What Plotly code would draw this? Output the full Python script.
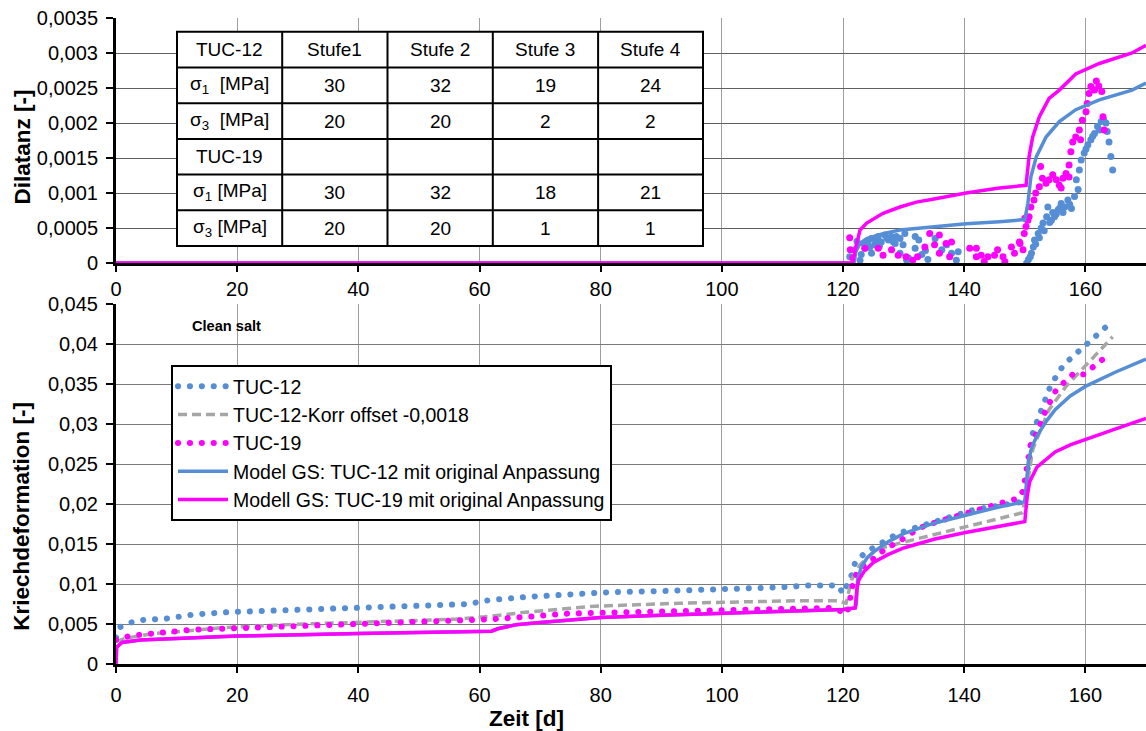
import plotly.graph_objects as go

# ---------------- data ----------------
# Bottom chart: creep deformation
t12_meas = [0, 0.6, 2.5, 4.5, 8.5, 13, 19, 27, 35, 42.5, 50, 58.5, 60, 62, 68, 76, 82, 89, 100, 110, 114,
            119.2, 120, 121.4, 122, 123.8, 125.6, 127.4, 129, 131, 134.5, 137.8, 141.7, 146.8, 149, 149.9,
            150.7, 151.3, 152.1, 153.4, 154.3, 156.4, 158.1, 159.4, 160.9, 162.4, 163.8]
v12_meas = [0.0033, 0.0046, 0.0052, 0.0055, 0.0057, 0.0062, 0.0065, 0.0067, 0.0069, 0.0071, 0.0073, 0.0075,
            0.0078, 0.0080, 0.0084, 0.0088, 0.0090, 0.0091, 0.0093, 0.0096, 0.0098, 0.0098, 0.0088, 0.0111,
            0.0127, 0.0140, 0.0148, 0.0156, 0.0163, 0.0168, 0.0177, 0.0184, 0.0193, 0.0199, 0.0202, 0.0213,
            0.0261, 0.0288, 0.0305, 0.0334, 0.0349, 0.0374, 0.0385, 0.0395, 0.0405, 0.0414, 0.0424]

t12_korr = [0, 1.5, 3.7, 6, 8.4, 17, 27, 38.6, 49, 56, 60.8, 68, 78.4, 93, 112, 119, 120.5, 121.4, 122.8,
            125.5, 129.3, 134.8, 140.3, 145.8, 149.6, 150.2, 151.3, 152.4, 154, 156.8, 160.1, 162.3, 164.5]
v12_korr = [0.0028, 0.0032, 0.0035, 0.0038, 0.0039, 0.0045, 0.0049, 0.0052, 0.0055, 0.0056, 0.0059, 0.0065,
            0.0072, 0.0076, 0.0079, 0.0079, 0.0076, 0.0105, 0.0124, 0.0143, 0.0151, 0.0161, 0.0172, 0.0182,
            0.0189, 0.0213, 0.0268, 0.0289, 0.0318, 0.0347, 0.0374, 0.0391, 0.0409]

t19_meas = [0, 2.2, 4.5, 6, 10.6, 12.8, 20.9, 29, 37, 44.4, 52.5, 59.8, 62, 67.9, 74.5, 85.5, 100, 110, 118.2,
            120.7, 121.3, 121.8, 122.9, 125.5, 127.1, 128.8, 130.4, 132.6, 134.8, 136.5, 139.2, 143.1, 146.9,
            148.9, 149.7, 150.4, 151, 152, 153.5, 155.2, 156.6, 158.2, 159.7, 161.4, 162.9]
v19_meas = [0.0030, 0.0035, 0.0037, 0.0038, 0.0041, 0.0043, 0.0045, 0.0047, 0.0048, 0.0050, 0.0052, 0.0054,
            0.0056, 0.0059, 0.0063, 0.0065, 0.0067, 0.0069, 0.0070, 0.0063, 0.0090, 0.0107, 0.0120, 0.0134,
            0.0145, 0.0151, 0.0159, 0.0170, 0.0176, 0.0180, 0.0186, 0.0195, 0.0203, 0.0207, 0.0216, 0.0249,
            0.0276, 0.0289, 0.0318, 0.0343, 0.0353, 0.0364, 0.0362, 0.0372, 0.0381]

t_mod12 = [0, 0.1, 1, 4, 10, 20, 40, 60, 62, 63, 66, 70, 80, 90, 100, 110, 120, 122, 122.2, 122.4, 123, 124,
           125, 127.5, 130, 135, 140, 145, 150, 150.3, 150.6, 151.2, 152, 153.5, 155, 157.5, 160, 165, 170]
v_mod12 = [0, 0.0021, 0.0027, 0.0030, 0.0032, 0.0035, 0.0038, 0.0040, 0.0041, 0.0044, 0.0049, 0.0052,
           0.0058, 0.0061, 0.0063, 0.0066, 0.0068, 0.0070, 0.0075, 0.0105, 0.0121, 0.0133, 0.0140, 0.0153,
           0.0163, 0.0176, 0.0186, 0.0195, 0.0203, 0.0225, 0.0255, 0.0272, 0.0285, 0.0303, 0.0318, 0.0335,
           0.0347, 0.0365, 0.0381]

t_mod19 = [0, 0.1, 1, 4, 10, 20, 40, 60, 62, 63, 66, 70, 80, 90, 100, 110, 120, 122, 122.3, 122.6, 123.5,
           125, 127.5, 130, 135, 140, 145, 150, 150.4, 150.8, 152, 153.5, 155, 157.5, 160, 165, 170]
v_mod19 = [0, 0.0021, 0.0027, 0.0030, 0.0032, 0.0035, 0.0038, 0.0040, 0.0041, 0.0044, 0.0049, 0.0052,
           0.0058, 0.0061, 0.0063, 0.0066, 0.0068, 0.0070, 0.0095, 0.0105, 0.0116, 0.0127, 0.0137, 0.0145,
           0.0156, 0.0164, 0.0171, 0.0178, 0.0210, 0.0228, 0.0246, 0.0256, 0.0265, 0.0274, 0.0281, 0.0294,
           0.0307]

# Top chart: dilatancy
td12_meas = [121.1, 121.9, 122.3, 122.8, 123.6, 124.1, 124.7, 124.7, 125.2, 125.8, 126.3, 126.9, 127.5, 128.0,
             128.6, 128.8, 129.4, 129.4, 130.2, 130.5, 130.8, 131.9, 131.9, 133.0, 134.0, 135.2, 136.3, 137.1,
             137.9, 138.7, 139.0, 150.3, 151.1, 151.4, 151.6, 152.2, 152.7, 153.0, 153.6, 153.8, 154.4, 154.9,
             155.5, 156.0, 156.6, 157.1, 157.7, 158.2, 158.5, 159.0, 159.3, 159.8, 160.4, 160.9, 161.5, 162.0,
             162.6, 163.4, 163.9, 164.2, 164.5,
             123.0, 123.4, 124.4, 125.5, 126.0, 127.2, 128.3, 129.9, 132.5, 133.6, 150.6, 150.9, 151.8, 152.4,
             153.2, 154.1, 154.6, 155.2, 155.8, 156.3, 157.4, 158.8, 160.1, 161.2, 162.3, 163.0, 163.6]
vd12_meas = [0.00009, 0.00019, 0.00031, 0.00004, 0.00021, 0.00030, 0.00035, 0.00014, 0.00026, 0.00038, 0.00030,
             0.00040, 0.00033, 0.00038, 0.00028, 0.00038, 0.00035, 0.00014, 0.00042, 0.00004, 0.00007, 0.00038,
             0.00021, 0.00012, 0.00005, 0.00035, 0.00019, 0.00026, 0.00014, 0.00004, 0.00016, 0.00000, 0.00014,
             0.00023, 0.00033, 0.00042, 0.00050, 0.00057, 0.00066, 0.00080, 0.00061, 0.00066, 0.00076, 0.00085,
             0.00080, 0.00090, 0.00078, 0.00095, 0.00119, 0.00133, 0.00147, 0.00157, 0.00169, 0.00176, 0.00185,
             0.00195, 0.00202, 0.00200, 0.00173, 0.00152, 0.00133,
             0.00012, 0.00028, 0.00022, 0.00032, 0.00024, 0.00036, 0.00030, 0.00026, 0.00033, 0.00018, 0.00005,
             0.00009, 0.00027, 0.00036, 0.00046, 0.00058, 0.00072, 0.00070, 0.00079, 0.00072, 0.00084, 0.00105,
             0.00163, 0.00181, 0.00190, 0.00205, 0.00188]

td19_meas = [121.1, 121.2, 121.6, 123.6, 125.8, 126.6, 128.0, 129.1, 130.4, 131.5, 132.3, 133.5, 134.3, 135.1,
             135.9, 135.9, 137.0, 137.6, 137.9, 140.9, 142.0, 142.0, 142.8, 143.3, 143.9, 145.0, 145.5, 146.4,
             146.7, 147.8, 148.3, 149.1, 149.2, 149.7, 149.9, 150.2, 150.0, 150.5, 150.7, 151.0, 151.5, 151.8,
             152.4, 152.6, 152.9, 153.5, 154.0, 154.6, 155.2, 155.7, 156.0, 156.3, 156.8, 157.3, 157.3, 157.6,
             157.9, 158.4, 159.0, 159.2, 159.5, 160.1, 160.3, 160.6, 160.9, 161.5, 161.8, 162.2, 162.7, 162.9,
             163.1]
vd19_meas = [0.00036, 0.00019, 0.00007, 0.00021, 0.00021, 0.00011, 0.00019, 0.00011, 0.00009, 0.00004, 0.00009,
             0.00023, 0.00042, 0.00026, 0.00040, 0.00014, 0.00028, 0.00009, 0.00030, 0.00021, 0.00021, 0.00009,
             0.00011, 0.00002, 0.00009, 0.00011, 0.00019, 0.00009, 0.00002, 0.00023, 0.00014, 0.00030, 0.00028,
             0.00019, 0.00042, 0.00052, 0.00064, 0.00061, 0.00066, 0.00080, 0.00090, 0.00100, 0.00109, 0.00138,
             0.00121, 0.00114, 0.00119, 0.00126, 0.00119, 0.00111, 0.00107, 0.00121, 0.00128, 0.00123, 0.00140,
             0.00159, 0.00173, 0.00180, 0.00190, 0.00176, 0.00204, 0.00216, 0.00228, 0.00242, 0.00252, 0.00247,
             0.00260, 0.00253, 0.00245, 0.00209, 0.00190]

td_mod12 = [0, 121.8, 122.1, 122.8, 123.9, 126.6, 129.4, 134.8, 140.3, 145.8, 150, 150.5, 151, 151.9, 153.5,
            155.7, 158.4, 162.3, 167.7, 170]
vd_mod12 = [0, 0, 0.00016, 0.00028, 0.00035, 0.00042, 0.00047, 0.00052, 0.00056, 0.00059, 0.00062, 0.00085,
            0.00123, 0.00152, 0.00180, 0.00202, 0.00219, 0.00233, 0.00247, 0.00257]

td_mod19 = [0, 121.6, 122, 122.8, 123.9, 126.6, 129.4, 132.1, 134.8, 140.3, 145.8, 150.2, 150.7, 151.3, 152.4,
            154, 155.7, 158.4, 162.3, 167.7, 170]
vd_mod19 = [0, 0, 0.00019, 0.00047, 0.00057, 0.00071, 0.00080, 0.00087, 0.00091, 0.00100, 0.00107, 0.00111,
            0.00152, 0.00180, 0.00209, 0.00235, 0.00247, 0.00270, 0.00285, 0.00300, 0.00311]

# Table
table_cells = [
    ["TUC-12", "Stufe1", "Stufe 2", "Stufe 3", "Stufe 4"],
    ["σ<sub>1</sub>  [MPa]", "30", "32", "19", "24"],
    ["σ<sub>3</sub>  [MPa]", "20", "20", "2", "2"],
    ["TUC-19", "", "", "", ""],
    ["σ<sub>1</sub> [MPa]", "30", "32", "18", "21"],
    ["σ<sub>3</sub> [MPa]", "20", "20", "1", "1"],
]

names = ["TUC-12", "TUC-12-Korr offset -0,0018", "TUC-19",
         "Model GS: TUC-12 mit original Anpassung", "Modell GS: TUC-19 mit original Anpassung"]

# ---------------- styling ----------------
BLUE = "#558ED5"
MAG = "#FF00FF"
GRAY = "#A6A6A6"
FONT = "Liberation Sans, Arial, sans-serif"
DOT = "0.1px,11.8px"

W, H = 1146, 731
L, R, T, B = 116, 0, 18, 67


def fx(px):
    return (px - L) / (W - L - R)


def fy(py):
    return (H - B - py) / (H - T - B)


fig = go.Figure()

# top chart
fig.add_trace(go.Scatter(x=td12_meas, y=vd12_meas, mode="markers", xaxis="x", yaxis="y",
                         marker=dict(color=BLUE, size=7), showlegend=False))
fig.add_trace(go.Scatter(x=td19_meas, y=vd19_meas, mode="markers", xaxis="x", yaxis="y",
                         marker=dict(color=MAG, size=7), showlegend=False))
fig.add_trace(go.Scatter(x=td_mod12, y=vd_mod12, mode="lines", xaxis="x", yaxis="y",
                         line=dict(color=BLUE, width=3.5), showlegend=False))
fig.add_trace(go.Scatter(x=td_mod19, y=vd_mod19, mode="lines", xaxis="x", yaxis="y",
                         line=dict(color=MAG, width=3.5), showlegend=False))

# bottom chart
fig.add_trace(go.Scatter(x=t12_meas, y=v12_meas, mode="lines", xaxis="x2", yaxis="y2", name=names[0],
                         line=dict(color=BLUE, width=6, dash=DOT)))
fig.add_trace(go.Scatter(x=t12_korr, y=v12_korr, mode="lines", xaxis="x2", yaxis="y2", name=names[1],
                         line=dict(color=GRAY, width=3.5, dash="9px,5px")))
fig.add_trace(go.Scatter(x=t19_meas, y=v19_meas, mode="lines", xaxis="x2", yaxis="y2", name=names[2],
                         line=dict(color=MAG, width=6, dash=DOT)))
fig.add_trace(go.Scatter(x=t_mod12, y=v_mod12, mode="lines", xaxis="x2", yaxis="y2", name=names[3],
                         line=dict(color=BLUE, width=3.5)))
fig.add_trace(go.Scatter(x=t_mod19, y=v_mod19, mode="lines", xaxis="x2", yaxis="y2", name=names[4],
                         line=dict(color=MAG, width=3.5)))

xcommon = dict(range=[0, 170], tick0=0, dtick=20, showgrid=True, gridcolor="#9E9E9E", gridwidth=1,
               ticks="outside", ticklen=6, tickwidth=2, tickcolor="black", showline=True,
               linecolor="black", linewidth=3, zeroline=False,
               tickfont=dict(family=FONT, size=20, color="black"))
ycommon = dict(showgrid=True, gridwidth=1, ticks="outside", ticklen=7, tickwidth=2, tickcolor="black",
               showline=True, linecolor="black", linewidth=3, zeroline=False, ticklabelstandoff=4,
               tickfont=dict(family=FONT, size=20, color="black"))

top_bottom = fy(263)
bot_top = fy(304)

fig.update_layout(
    width=W, height=H,
    margin=dict(l=L, r=R, t=T, b=B),
    paper_bgcolor="white", plot_bgcolor="white",
    separators=",.",
    font=dict(family=FONT, color="black"),
    xaxis=dict(domain=[0, 1], anchor="y", **xcommon),
    yaxis=dict(domain=[top_bottom, 1], anchor="x", range=[0, 0.0035], tick0=0, dtick=0.0005,
               gridcolor="#606060", **ycommon),
    xaxis2=dict(domain=[0, 1], anchor="y2", ticklabelstandoff=5, **xcommon),
    yaxis2=dict(domain=[0, bot_top], anchor="x2", range=[0, 0.045], tick0=0, dtick=0.005,
                gridcolor="#7A7A7A", **ycommon),
    legend=dict(x=fx(171), y=fy(365), xanchor="left", yanchor="top", xref="paper", yref="paper",
                bgcolor="white", bordercolor="black", borderwidth=2, itemwidth=50,
                font=dict(family=FONT, size=19.5, color="black"), tracegroupgap=0),
    showlegend=True,
)

# y titles and x title
annotations = [
    dict(text="<b>Dilatanz [-]</b>", x=fx(22), y=fy(147.5), textangle=-90),
    dict(text="<b>Kriechdeformation [-]</b>", x=fx(22), y=fy(516.7), textangle=-90),
    dict(text="<b>Zeit [d]</b>", x=fx(526), y=fy(718), textangle=0),
]
for a in annotations:
    fig.add_annotation(xref="paper", yref="paper", showarrow=False, xanchor="center", yanchor="middle",
                       font=dict(family=FONT, size=22.5, color="black"), **a)

fig.add_annotation(text="<b>Clean salt</b>", xref="paper", yref="paper", x=fx(190), y=fy(326),
                   xanchor="left", yanchor="middle", showarrow=False,
                   font=dict(family=FONT, size=14.6, color="black"))

# table
col_edges = [177, 282.2, 387.5, 492.8, 598.1, 703]
row_edges = [31.7, 67.4, 103.2, 138.9, 174.6, 210.3, 246]
fig.add_shape(type="rect", xref="paper", yref="paper", x0=fx(col_edges[0]), x1=fx(col_edges[-1]),
              y0=fy(row_edges[-1]), y1=fy(row_edges[0]), fillcolor="white",
              line=dict(color="black", width=2), layer="above")
for cx in col_edges[1:-1]:
    fig.add_shape(type="line", xref="paper", yref="paper", x0=fx(cx), x1=fx(cx),
                  y0=fy(row_edges[-1]), y1=fy(row_edges[0]), line=dict(color="black", width=2),
                  layer="above")
for ry in row_edges[1:-1]:
    fig.add_shape(type="line", xref="paper", yref="paper", x0=fx(col_edges[0]), x1=fx(col_edges[-1]),
                  y0=fy(ry), y1=fy(ry), line=dict(color="black", width=2), layer="above")
for i, row in enumerate(table_cells):
    yc = (row_edges[i] + row_edges[i + 1]) / 2
    for j, txt in enumerate(row):
        if not txt:
            continue
        xc = (col_edges[j] + col_edges[j + 1]) / 2
        fig.add_annotation(text=txt, xref="paper", yref="paper", x=fx(xc), y=fy(yc), showarrow=False,
                           xanchor="center", yanchor="middle",
                           font=dict(family=FONT, size=19, color="black"))

post = """
document.documentElement.style.margin='0';document.documentElement.style.padding='0';
document.body.style.margin='0';document.body.style.padding='0';document.body.style.overflow='hidden';
function rc(){document.querySelectorAll('path').forEach(function(p){var d=(p.style.strokeDasharray||'').replace(/\\s/g,'');if(d.indexOf('0.1px,11.8px')===0){p.style.strokeLinecap='round';}});}
rc(); setTimeout(rc,50); setTimeout(rc,300);
"""

fig.write_html("out.html", post_script=post, config={"displayModeBar": False})
